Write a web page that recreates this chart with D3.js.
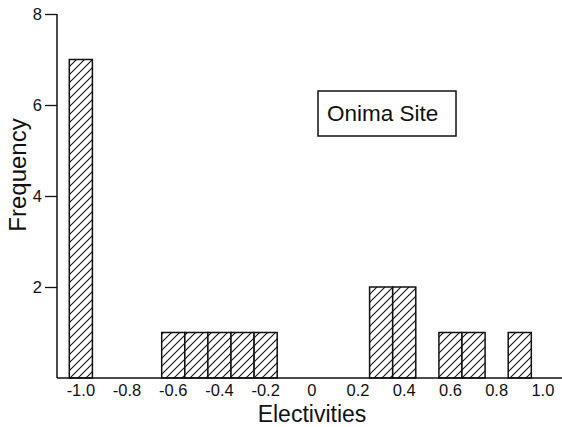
<!DOCTYPE html>
<html>
<head>
<meta charset="utf-8">
<script src="https://cdn.jsdelivr.net/npm/d3@7"></script>
<style>
  html, body { margin: 0; padding: 0; background: #fff; }
  svg { display: block; font-family: "Liberation Sans", Arial, Helvetica, sans-serif; }
</style>
</head>
<body>
<svg id="chart" width="562" height="427"></svg>
<script>
// Histogram of electivity values (bin width 0.1, labelled by bin centre)
const electivity = [-1.0, -0.6, -0.5, -0.4, -0.3, -0.2, 0.3, 0.4, 0.6, 0.7, 0.9];
const frequency  = [7, 1, 1, 1, 1, 1, 2, 2, 1, 1, 1];
const xTickValues = [-1.0, -0.8, -0.6, -0.4, -0.2, 0, 0.2, 0.4, 0.6, 0.8, 1.0];
const xTickLabels = ["-1.0", "-0.8", "-0.6", "-0.4", "-0.2", "0", "0.2", "0.4", "0.6", "0.8", "1.0"];
const yTickValues = [2, 4, 6, 8];
const binWidth = 0.1;
const siteName = "Onima Site";

const svg = d3.select("#chart");

const x = d3.scaleLinear().domain([-1.05, 1.05]).range([69.3, 554.4]);
const y = d3.scaleLinear().domain([0, 8]).range([378, 14]);

// diagonal hatch fill
const defs = svg.append("defs");
const pat = defs.append("pattern")
  .attr("id", "hatch")
  .attr("patternUnits", "userSpaceOnUse")
  .attr("width", 8).attr("height", 8);
pat.append("rect").attr("width", 8).attr("height", 8).attr("fill", "#fff");
pat.append("path")
  .attr("d", "M-2,2 L2,-2 M0,8 L8,0 M6,10 L10,6")
  .attr("stroke", "#111").attr("stroke-width", 1.1);

// bars
svg.append("g").selectAll("rect")
  .data(electivity.map((v, i) => ({ v, f: frequency[i] })))
  .join("rect")
  .attr("x", d => x(d.v - binWidth / 2))
  .attr("width", d => x(d.v + binWidth / 2) - x(d.v - binWidth / 2))
  .attr("y", d => y(d.f))
  .attr("height", d => y(0) - y(d.f))
  .attr("fill", "url(#hatch)")
  .attr("stroke", "#111")
  .attr("stroke-width", 1.5);

// y axis
const yAxis = d3.axisLeft(y).tickValues(yTickValues).tickSize(12).tickPadding(3).tickFormat(d3.format("d"));
const gy = svg.append("g").attr("transform", "translate(57,0)").call(yAxis);
gy.select(".domain").remove();
gy.append("line").attr("x1", 0).attr("x2", 0).attr("y1", y(8)).attr("y2", y(0))
  .attr("stroke", "#111").attr("stroke-width", 1.5);
gy.selectAll(".tick line").attr("stroke", "#111").attr("stroke-width", 1.3);
gy.selectAll(".tick text").attr("font-size", 16.5).attr("fill", "#111")
  .attr("font-family", "'Liberation Sans', Arial, sans-serif");

// x axis baseline and labels
svg.append("line").attr("x1", 57).attr("x2", 562).attr("y1", y(0)).attr("y2", y(0))
  .attr("stroke", "#111").attr("stroke-width", 1.5);
svg.append("g").selectAll("text")
  .data(xTickValues)
  .join("text")
  .attr("x", d => x(d))
  .attr("y", 396)
  .attr("text-anchor", "middle")
  .attr("font-size", 16.5)
  .attr("fill", "#111")
  .text((d, i) => xTickLabels[i]);

// axis titles
svg.append("text")
  .attr("x", 312).attr("y", 422)
  .attr("text-anchor", "middle")
  .attr("font-size", 23)
  .attr("fill", "#111")
  .text("Electivities");

svg.append("text")
  .attr("transform", "translate(26,175) rotate(-90)")
  .attr("text-anchor", "middle")
  .attr("font-size", 24)
  .attr("fill", "#111")
  .text("Frequency");

// site label box
const lg = svg.append("g");
lg.append("rect").attr("x", 318).attr("y", 91).attr("width", 138).attr("height", 45)
  .attr("fill", "#fff").attr("stroke", "#111").attr("stroke-width", 1.5);
lg.append("text").attr("x", 327).attr("y", 121)
  .attr("font-size", 22.5).attr("fill", "#111")
  .text(siteName);
</script>
</body>
</html>
